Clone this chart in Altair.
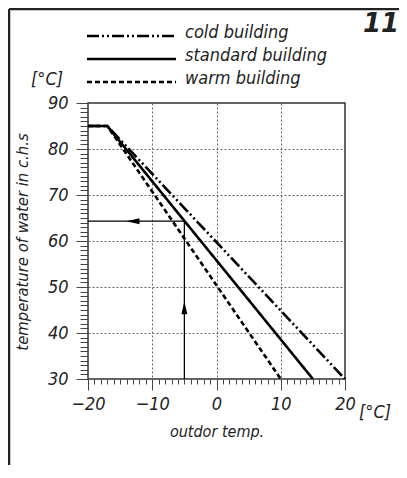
import altair as alt
import pandas as pd

# Series: outdoor temp (x) vs. heating-water temperature (y)
buildings = ["cold building", "standard building", "warm building"]
cold_x = [-20, -17, 20]
cold_y = [85, 85, 30]
std_x = [-20, -17, 15]
std_y = [85, 85, 30]
warm_x = [-20, -17, 10]
warm_y = [85, 85, 30]
dashes = [[12, 3, 2, 3, 2, 3], [1, 0], [5, 3]]

# Reading example (arrows)
read_x = -5
read_y = 64.3
arrow_up_y = 45.5
arrow_left_x = -13

x_ticks = list(range(-20, 21))
y_ticks = list(range(30, 91))

FONT = "Liberation Sans Narrow, DejaVu Sans Condensed, Roboto Condensed, Liberation Sans, sans-serif"
INK = "#222"
W, H = 257, 276

rows = []
for name, xs, ys in zip(buildings, [cold_x, std_x, warm_x], [cold_y, std_y, warm_y]):
    for i, (a, b) in enumerate(zip(xs, ys)):
        rows.append({"building": name, "t_out": a, "t_w": b, "o": i})
df = pd.DataFrame(rows)

xscale = alt.Scale(domain=[-20, 20], nice=False, zero=False)
yscale = alt.Scale(domain=[30, 90], nice=False, zero=False)

xaxis = alt.Axis(
    values=x_ticks, title=None, grid=True,
    gridDash=[2, 2], gridColor="#666", gridWidth=1,
    gridOpacity={"condition": {"test": "datum.value % 10 === 0 && abs(datum.value) < 20", "value": 1}, "value": 0},
    tickSize={"condition": {"test": "datum.value % 10 === 0", "value": 11},
              "value": 5},
    tickColor="#444", tickWidth=1, domain=False,
    labelExpr="datum.value % 10 === 0 ? datum.label : ''",
    labelFont=FONT, labelFontSize=18, labelFontStyle="italic", labelColor=INK,
    labelPadding=5, labelFlush=False, labelOverlap=False,
)
yaxis = alt.Axis(
    values=y_ticks, title=None, grid=True,
    gridDash=[2, 2], gridColor="#666", gridWidth=1,
    gridOpacity={"condition": {"test": "datum.value % 10 === 0 && datum.value > 30 && datum.value < 90", "value": 1}, "value": 0},
    tickSize={"condition": {"test": "datum.value % 10 === 0", "value": 12}, "value": 8},
    tickColor="#444", tickWidth=1, domain=False,
    labelExpr="datum.value % 10 === 0 ? datum.label : ''",
    labelFont=FONT, labelFontSize=18, labelFontStyle="italic", labelColor=INK,
    labelPadding=8, labelOverlap=False, labelBaseline="middle", labelFlush=False,
)

lines = alt.Chart(df).mark_line(color="black", strokeWidth=2.6, clip=False).encode(
    x=alt.X("t_out:Q", scale=xscale, axis=xaxis),
    y=alt.Y("t_w:Q", scale=yscale, axis=yaxis),
    order="o:Q",
    strokeDash=alt.StrokeDash(
        "building:N",
        scale=alt.Scale(domain=buildings, range=dashes),
        legend=None,
    ),
)

seg = pd.DataFrame({
    "x": [read_x, read_x], "y": [30, read_y],
    "x2": [read_x, -20], "y2": [read_y, read_y],
})
rules = alt.Chart(seg).mark_rule(color="black", strokeWidth=1.3).encode(
    x=alt.X("x:Q", scale=xscale, axis=xaxis), y=alt.Y("y:Q", scale=yscale, axis=yaxis),
    x2="x2:Q", y2="y2:Q",
)

heads = pd.DataFrame({
    "x": [read_x, arrow_left_x], "y": [arrow_up_y, read_y],
    "shape": ["M0,-1L0.45,1L-0.45,1Z", "M-1,0L1,-0.45L1,0.45Z"],
})
arrows = alt.Chart(heads).mark_point(filled=True, color="black", opacity=1, size=170).encode(
    x=alt.X("x:Q", scale=xscale, axis=xaxis), y=alt.Y("y:Q", scale=yscale, axis=yaxis),
    shape=alt.Shape("shape:N", scale=None),
)

def label(txt, x, y, size=17, angle=0, weight="normal", font=FONT, align="center"):
    return alt.Chart(pd.DataFrame({"t": [txt]})).mark_text(
        font=font, fontSize=size, fontStyle="italic", fontWeight=weight,
        color=INK, angle=angle, align=align, baseline="middle",
    ).encode(text="t:N", x=alt.value(x), y=alt.value(y))

# manual legend
legend_layers = []
for i, (name, d) in enumerate(zip(buildings, dashes)):
    ly = -67 + i * 23
    legend_layers.append(
        alt.Chart(pd.DataFrame({"b": [name]})).mark_rule(color="black", strokeWidth=2.6, strokeDash=d).encode(
            x=alt.value(-1), x2=alt.value(88), y=alt.value(ly)
        )
    )
    legend_layers.append(label(name, 97, ly - 3, size=18, align="left"))

texts = [
    label("temperature of water in c.h.s", -65, 139, size=16.5, angle=270),
    label("outdor temp.", 129, 329, size=16),
    label("[°C]", 287, 310, size=18),
    label("[°C]", -41, -23, size=18),
    label("11", 293, -79, size=26, weight="bold", font="DejaVu Sans, Liberation Sans, sans-serif"),
]

frame = alt.Chart(pd.DataFrame({"k": [0]})).mark_rule(color="#222", strokeWidth=2.5).encode(
    x=alt.value(-79), y=alt.value(-94), y2=alt.value(400),
) + alt.Chart(pd.DataFrame({"k": [0]})).mark_rule(color="#222", strokeWidth=2.5).encode(
    x=alt.value(-79), x2=alt.value(330), y=alt.value(-94),
)

chart = alt.layer(lines, rules, arrows, *legend_layers, *texts, frame).properties(
    width=W, height=H,
    background="white",
    autosize=alt.AutoSizeParams(type="none"),
    padding={"left": 80, "top": 95, "right": 54, "bottom": 86},
).configure_view(stroke="#333", strokeWidth=1.5)

chart.save("out.html", embed_options={"renderer": "svg", "actions": False})
